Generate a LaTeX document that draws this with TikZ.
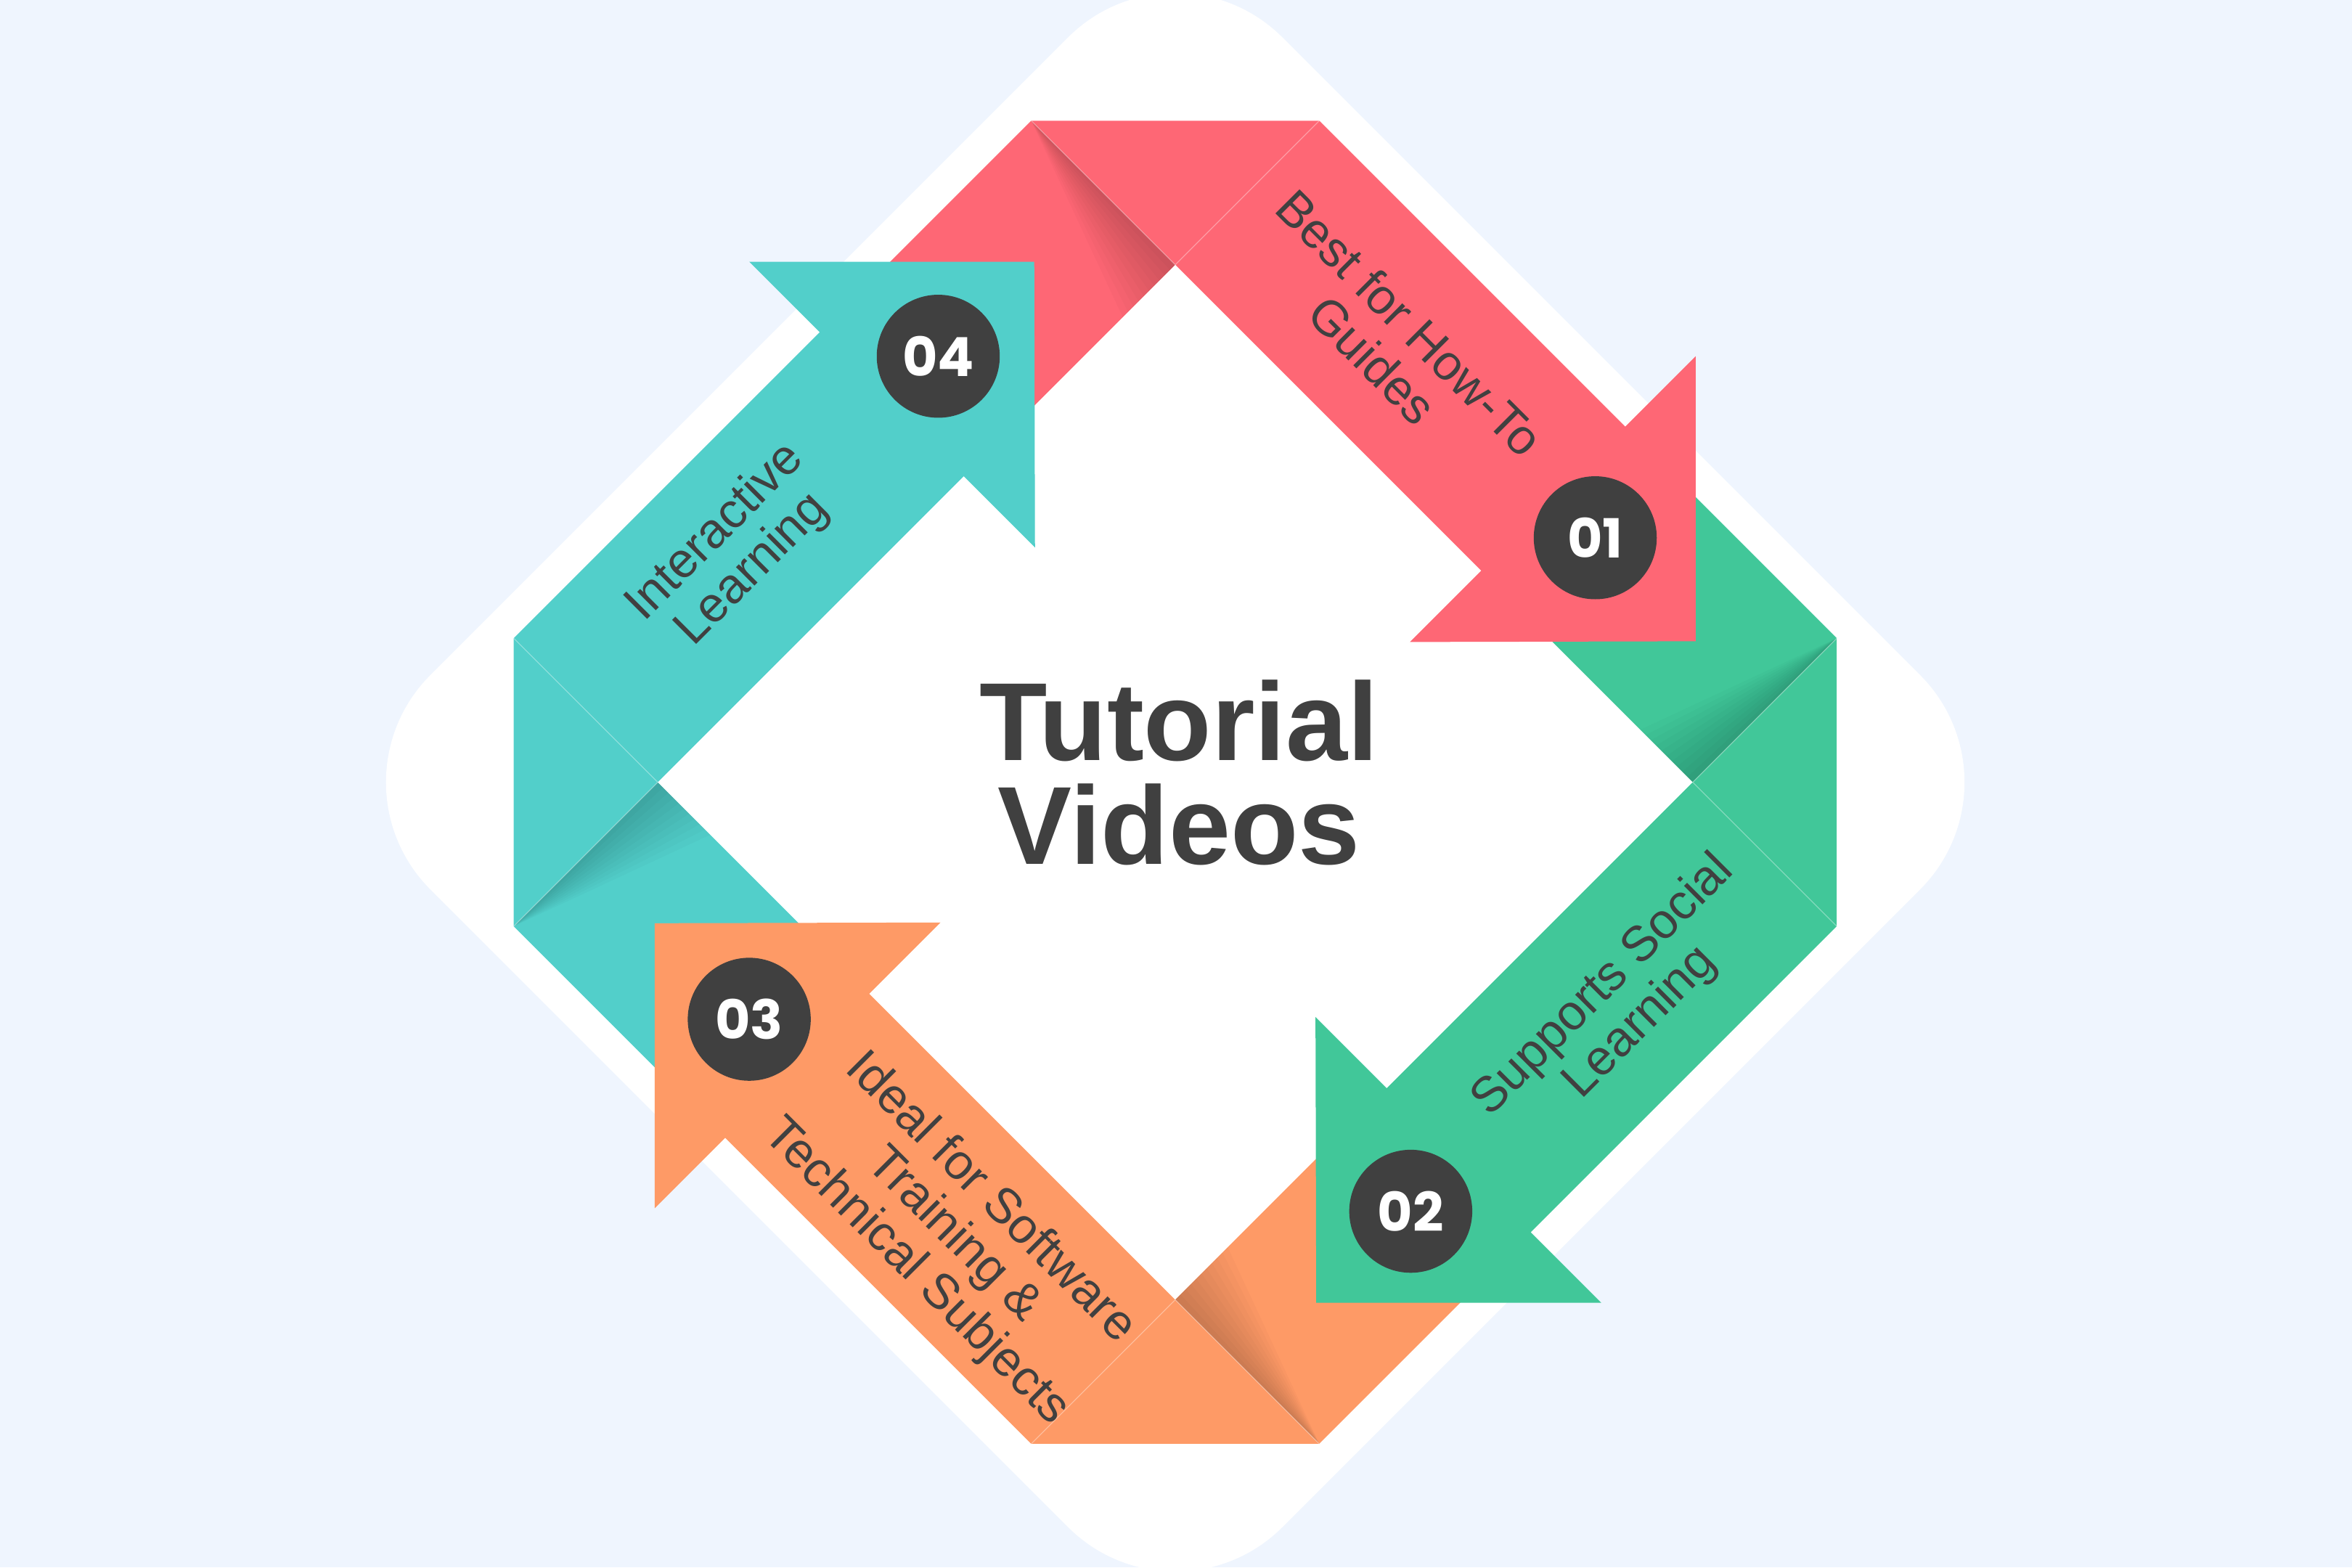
\documentclass[tikz,border=0pt]{standalone}
\usepackage{fontspec}
\setmainfont{Liberation Sans}
\newfontfamily\numfont{Poppins}
\usepackage{tikz}
\definecolor{clrBack}{RGB}{239,245,254}
\definecolor{clrInk}{RGB}{64,64,64}
\definecolor{clrDisk}{RGB}{64,64,64}
\definecolor{clrRibbonRed}{RGB}{254,103,117}
\definecolor{clrRibbonGreen}{RGB}{65,199,153}
\definecolor{clrRibbonOrange}{RGB}{254,154,102}
\definecolor{clrRibbonTeal}{RGB}{82,207,202}
\tikzset{
  ribbontext/.style={text=clrInk, align=center, inner sep=0pt, font=\fontsize{33}{35}\selectfont},
  numdisk/.style={circle, fill=clrDisk, minimum size=82pt, inner sep=0pt, text=white, font=\numfont\bfseries\fontsize{36}{36}\selectfont},
  titletext/.style={text=clrInk, align=center, inner sep=0pt, font=\bfseries\fontsize{74}{69}\selectfont},
  seamline/.style={white, opacity=0.35, line width=0.6pt},
  foldshadow/.style={black, opacity=0.02}
}
% back half of a ribbon (runs under the previous arrow), with the fold shadow
\newcommand{\ribbonback}[2]{%
  \begin{scope}[rotate=#2]
    \fill[#1] (-96,441) -- (0,345) -- (-122.5,222.5) -- (-218.5,318.5) -- cycle;
    \foreach \off in {3.5,7,...,35}
      \fill[foldshadow] (-96,441) -- (0,345) -- ++(-\off,-\off) -- cycle;
  \end{scope}}
% front half of a ribbon with its arrowhead
\newcommand{\ribbonfront}[2]{%
  \begin{scope}[rotate=#2]
    \fill[#1] (-96,441) -- (96,441) -- (300,237) -- (347,284) -- (347,94)
      -- (156.5,93.5) -- (204,141) -- (0,345) -- cycle;
    \draw[seamline] (-96,441) -- (0,345) -- (96,441);
  \end{scope}}

\begin{document}
\begin{tikzpicture}[x=1pt, y=1pt]

\useasboundingbox (-783.5,-523.5) rectangle (784.5,521.5);
\fill[clrBack] (-783.5,-523.5) rectangle (784.5,521.5);
\fill[white, rounded corners=101pt] (-568,0) -- (0,568) -- (568,0) -- (0,-568) -- cycle;

\ribbonback{clrRibbonRed}{0}
\ribbonback{clrRibbonGreen}{-90}
\ribbonback{clrRibbonOrange}{180}
\ribbonback{clrRibbonTeal}{90}

\ribbonfront{clrRibbonRed}{0}
\ribbonfront{clrRibbonGreen}{-90}
\ribbonfront{clrRibbonOrange}{180}
\ribbonfront{clrRibbonTeal}{90}

\node[numdisk] (n01) at (280,163) {01};
\node[numdisk] (n02) at (157,-286) {02};
\node[numdisk] (n03) at (-284,-158) {03};
\node[numdisk] (n04) at (-158,284) {04};

\node[ribbontext, rotate=-45] (label01) at (144,294) {Best for How-To\\Guides};
\node[ribbontext, rotate=45] (label02) at (298,-148) {Supports Social\\Learning};
\node[ribbontext, rotate=-45] (label03) at (-148,-302) {Ideal for Software\\Training \&\\Technical Subjects};
\node[ribbontext, rotate=45] (label04) at (-294,154) {Interactive\\Learning};

\node[titletext] (title) at (2.5,6.5) {Tutorial\\Videos};

\end{tikzpicture}
\end{document}
